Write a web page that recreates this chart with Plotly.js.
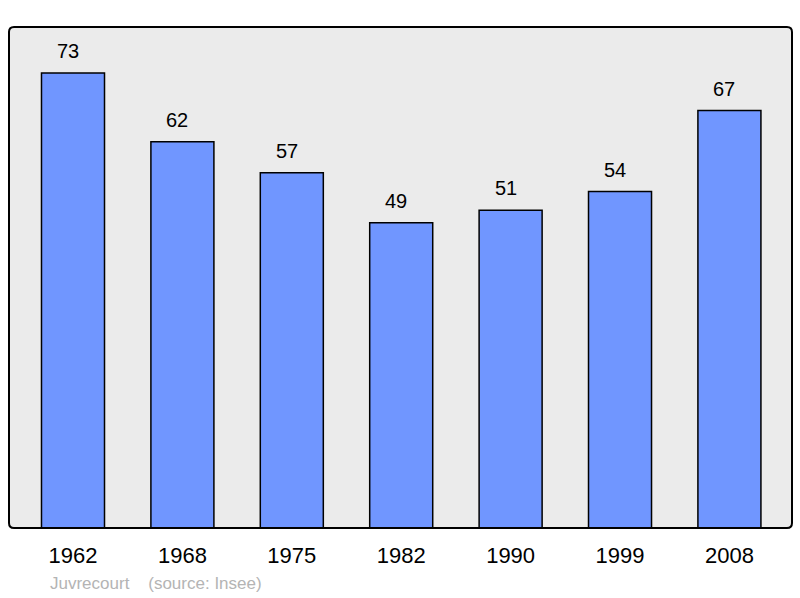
<!DOCTYPE html>
<html><head><meta charset="utf-8">
<script src="https://cdn.plot.ly/plotly-3.0.1.min.js"></script>
<style>body{margin:0;background:#fff}#c{width:800px;height:598px}</style>
</head><body><div id="c"></div>
<script>
const years = ['1962','1968','1975','1982','1990','1999','2008'];
const population = [73, 62, 57, 49, 51, 54, 67];
const townName = 'Juvrecourt';
const sourceText = '(source: Insee)';

const trace = {
  type: 'bar',
  x: years,
  y: population,
  width: 0.576,
  marker: {color: 'rgb(112,150,255)', line: {color: '#000', width: 1.5}},
  hoverinfo: 'none'
};
const annotations = years.map((yr, i) => ({
  x: i, y: population[i], xref: 'x', yref: 'y',
  text: String(population[i]), showarrow: false,
  yanchor: 'bottom', yshift: 9, xshift: -5,
  font: {family: 'Liberation Sans, Arial, sans-serif', size: 20, color: '#000'}
}));
annotations.push({
  xref: 'paper', yref: 'paper', x: 0.05, y: 0, xanchor: 'left', yanchor: 'top',
  yshift: -44, showarrow: false,
  text: townName + '&nbsp;&nbsp;&nbsp;&nbsp;' + sourceText,
  font: {family: 'Liberation Sans, Arial, sans-serif', size: 17, color: '#b4b4b4'}
});
const rx = 0.0064, ry = 0.01;
const borderPath = `M ${rx} 0 L ${1-rx} 0 Q 1 0 1 ${ry} L 1 ${1-ry} Q 1 1 ${1-rx} 1 L ${rx} 1 Q 0 1 0 ${1-ry} L 0 ${ry} Q 0 0 ${rx} 0 Z`;
const layout = {
  width: 800, height: 598,
  margin: {l: 9, r: 8, t: 27, b: 70},
  paper_bgcolor: '#fff',
  plot_bgcolor: 'rgba(0,0,0,0)',
  showlegend: false,
  xaxis: {
    type: 'category', range: [-0.585, 6.572],
    showgrid: false, zeroline: false, showline: false, ticks: '',
    tickfont: {family: 'Liberation Sans, Arial, sans-serif', size: 22, color: '#000'},
    ticklabelstandoff: 12
  },
  yaxis: {range: [0, 80.4], showgrid: false, zeroline: false, showticklabels: false, ticks: ''},
  shapes: [
    {type: 'path', xref: 'paper', yref: 'paper', path: borderPath, layer: 'below',
     fillcolor: '#ebebeb', line: {width: 0}},
    {type: 'path', xref: 'paper', yref: 'paper', path: borderPath, layer: 'above',
     line: {color: '#000', width: 2}}
  ],
  annotations: annotations
};
Plotly.newPlot('c', [trace], layout, {staticPlot: true});
</script></body></html>
